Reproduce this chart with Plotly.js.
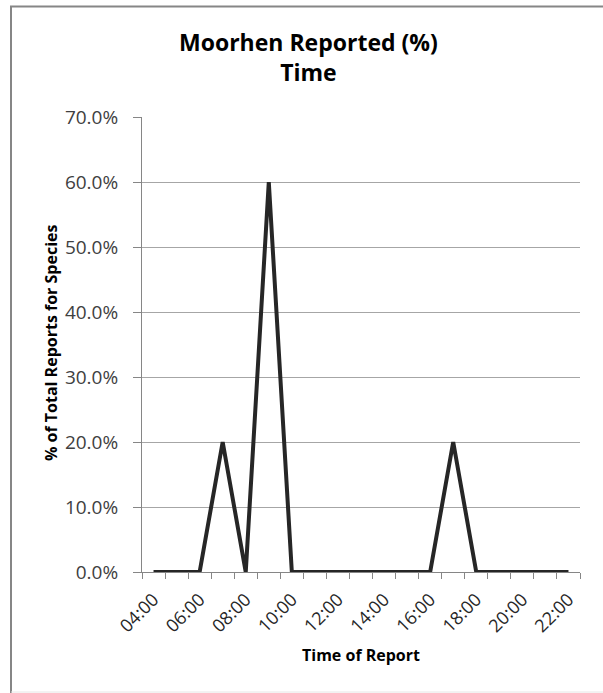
<!DOCTYPE html>
<html>
<head>
<meta charset="utf-8">
<script src="https://cdn.plot.ly/plotly-3.0.1.min.js"></script>
<style>
html,body{margin:0;padding:0;background:#fff;}
#chart{width:603px;height:693px;}
</style>
</head>
<body>
<div id="chart"></div>
<script>
// Data
const categories = ["04:00","05:00","06:00","07:00","08:00","09:00","10:00","11:00","12:00","13:00",
                    "14:00","15:00","16:00","17:00","18:00","19:00","20:00","21:00","22:00"];
const percentReported = [0,0,0,0.20,0,0.60,0,0,0,0,0,0,0,0.20,0,0,0,0,0];
const tickLabels = ["04:00","","06:00","","08:00","","10:00","","12:00","","14:00","","16:00","","18:00","","20:00","","22:00"];
const chartTitle = "Moorhen Reported (%)<br>Time";
const xTitle = "Time of Report";
const yTitle = "% of Total Reports for Species";

const FONT = "'Open Sans', sans-serif";

const trace = {
  type: 'scatter',
  mode: 'lines',
  x: categories,
  y: percentReported,
  line: {color: '#262626', width: 4},
  hoverinfo: 'skip'
};

const layout = {
  width: 603,
  height: 693,
  margin: {l: 142, r: 23, t: 117, b: 121},
  paper_bgcolor: '#ffffff',
  plot_bgcolor: '#ffffff',
  showlegend: false,
  font: {family: FONT, color: '#404040'},
  xaxis: {
    type: 'category',
    categoryorder: 'array',
    categoryarray: categories,
    range: [-0.5, categories.length - 0.5],
    tickmode: 'array',
    tickvals: categories,
    ticktext: tickLabels,
    tickson: 'boundaries',
    ticks: 'outside',
    ticklen: 6,
    tickcolor: '#868686',
    tickwidth: 1,
    tickangle: -45,
    ticklabelstandoff: 9,
    tickfont: {family: FONT, size: 18, color: '#262626'},
    showline: true,
    linecolor: '#868686',
    linewidth: 1,
    showgrid: false,
    zeroline: false
  },
  yaxis: {
    range: [0, 0.7],
    dtick: 0.1,
    tick0: 0,
    tickformat: '.1%',
    ticks: 'outside',
    ticklen: 8,
    tickcolor: '#868686',
    tickwidth: 1,
    ticklabelstandoff: 11,
    tickfont: {family: FONT, size: 19, color: '#404040'},
    showline: true,
    linecolor: '#868686',
    linewidth: 1,
    showgrid: true,
    gridcolor: '#a6a6a6',
    gridwidth: 1,
    zeroline: false
  },
  annotations: [
    {text: '<b>' + chartTitle.split('<br>').join('</b><br><b>') + '</b>', xref: 'paper', yref: 'paper',
     x: 0.381, y: 1.131, xanchor: 'center', yanchor: 'middle', showarrow: false,
     font: {family: FONT, size: 23, color: '#000000'}},
    {text: '<b>' + xTitle + '</b>', xref: 'paper', yref: 'paper',
     x: 0.5, y: -0.183, xanchor: 'center', yanchor: 'middle', showarrow: false,
     font: {family: FONT, size: 16, color: '#000000'}},
    {text: '<b>' + yTitle + '</b>', xref: 'paper', yref: 'paper', textangle: -90,
     x: -0.208, y: 0.503, xanchor: 'center', yanchor: 'middle', showarrow: false,
     font: {family: FONT, size: 16, color: '#000000'}}
  ]
};

Plotly.newPlot('chart', [trace], layout, {displayModeBar: false, staticPlot: true}).then(function(gd){
  // chart-area border: left and top edges visible, right edge runs off the picture
  const svg = gd.querySelector('svg.main-svg');
  const ns = 'http://www.w3.org/2000/svg';
  const p = document.createElementNS(ns, 'path');
  p.setAttribute('d', 'M11,693 L11,6.5 L603,6.5');
  p.setAttribute('fill', 'none'); p.setAttribute('stroke', '#868686'); p.setAttribute('stroke-width', 2);
  svg.appendChild(p);
  const b = document.createElementNS(ns, 'path');
  b.setAttribute('d', 'M11,692 L603,692');
  b.setAttribute('fill', 'none'); b.setAttribute('stroke', '#e6e6e6'); b.setAttribute('stroke-width', 1);
  svg.appendChild(b);
});
</script>
</body>
</html>
